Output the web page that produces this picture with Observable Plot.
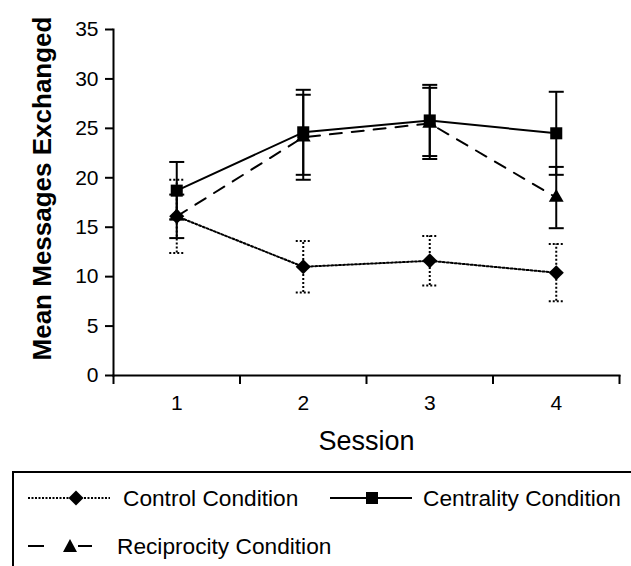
<!DOCTYPE html>
<html>
<head>
<meta charset="utf-8">
<script src="https://cdn.jsdelivr.net/npm/d3@7"></script>
<script src="https://cdn.jsdelivr.net/npm/@observablehq/plot@0.6"></script>
<style>
  html, body { margin: 0; padding: 0; background: #fff; }
  #wrap { position: relative; width: 631px; height: 566px; overflow: hidden; font-family: "Liberation Sans", Arial, sans-serif; }
  #legend { position: absolute; left: 12px; top: 471px; width: 700px; height: 200px; border: 2px solid #000; box-sizing: border-box; }
  .item { position: absolute; height: 30px; }
  .item svg { position: absolute; top: 0; }
  .item span { position: absolute; top: 2px; font-size: 22.7px; white-space: nowrap; color: #000; }
</style>
</head>
<body>
<div id="wrap">
  <div id="chart"></div>
  <div id="legend"></div>
</div>
<script>
const sessions = [1, 2, 3, 4];
const sessionBounds = [0.5, 1.5, 2.5, 3.5, 4.5];
const yTicks = [0, 5, 10, 15, 20, 25, 30, 35];

const control = [16.1, 11.0, 11.6, 10.4];
const controlErr = [3.7, 2.6, 2.5, 2.9];
const centrality = [18.7, 24.6, 25.8, 24.5];
const centralityErr = [2.9, 4.3, 3.6, 4.2];
const reciprocity = [16.1, 24.1, 25.5, 18.0];
const reciprocityErr = [2.2, 4.3, 3.6, 3.1];

const seriesNames = ["Control Condition", "Centrality Condition", "Reciprocity Condition"];

function rows(vals, errs) {
  return sessions.map((s, i) => ({session: s, value: vals[i], lo: vals[i] - errs[i], hi: vals[i] + errs[i]}));
}
const ctrl = rows(control, controlErr);
const cent = rows(centrality, centralityErr);
const reci = rows(reciprocity, reciprocityErr);

const hline = {draw(ctx, size) { const r = Math.sqrt(size / Math.PI); ctx.moveTo(-r, 0); ctx.lineTo(r, 0); }};

function errMarks(data, dash) {
  return [
    Plot.ruleX(data, {x: "session", y1: "lo", y2: "hi", stroke: "black", strokeWidth: 2, strokeDasharray: dash}),
    Plot.dot(data, {x: "session", y: "lo", symbol: hline, r: 7.5, stroke: "black", strokeWidth: 2, strokeDasharray: dash}),
    Plot.dot(data, {x: "session", y: "hi", symbol: hline, r: 7.5, stroke: "black", strokeWidth: 2, strokeDasharray: dash})
  ];
}

const font = "Liberation Sans, Arial, sans-serif";

const chart = Plot.plot({
  width: 631,
  height: 470,
  marginLeft: 113,
  marginRight: 12,
  marginTop: 29,
  marginBottom: 95,
  style: {fontFamily: font, background: "#fff", color: "#000", overflow: "visible"},
  x: {type: "linear", domain: [0.5, 4.5]},
  y: {domain: [0, 35]},
  marks: [
    Plot.axisY({ticks: yTicks, tickSize: 8, tickPadding: 7, fontSize: 21, label: null, strokeWidth: 2}),
    Plot.axisX({ticks: sessions, tickSize: 0, tickPadding: 20, fontSize: 21, label: null, tickFormat: d => String(d)}),
    Plot.axisX({ticks: sessionBounds, tickSize: 9, tickFormat: () => "", label: null, strokeWidth: 2}),
    Plot.frame({anchor: "left", stroke: "black", strokeWidth: 2}),
    Plot.frame({anchor: "bottom", stroke: "black", strokeWidth: 2}),
    Plot.text(["Mean Messages Exchanged"], {frameAnchor: "left", rotate: -90, dx: -71, dy: -14, fontSize: 26, fontWeight: "bold", textAnchor: "middle", lineAnchor: "middle"}),
    Plot.text(["Session"], {frameAnchor: "bottom", dy: 66, fontSize: 27, textAnchor: "middle", lineAnchor: "middle"}),
    ...errMarks(ctrl, "2,2"),
    ...errMarks(cent, null),
    ...errMarks(reci, null),
    Plot.line(ctrl, {x: "session", y: "value", stroke: "black", strokeWidth: 2, strokeDasharray: "2,2"}),
    Plot.line(cent, {x: "session", y: "value", stroke: "black", strokeWidth: 2}),
    Plot.line(reci, {x: "session", y: "value", stroke: "black", strokeWidth: 2, strokeDasharray: "12,10"}),
    Plot.dot(ctrl, {x: "session", y: "value", symbol: "diamond2", r: 6.8, fill: "black"}),
    Plot.dot(cent, {x: "session", y: "value", symbol: "square", r: 6.8, fill: "black"}),
    Plot.dot(reci, {x: "session", y: "value", symbol: "triangle", r: 5.5, fill: "black"})
  ]
});
document.getElementById("chart").appendChild(chart);

// Legend
const legend = document.getElementById("legend");
const ox = 14, oy = 473; // legend box inner origin (page coords)
function addItem(left, top, iconW, iconHtml, textLeft, text) {
  const d = document.createElement("div");
  d.className = "item";
  d.style.left = (left - ox) + "px";
  d.style.top = (top - oy) + "px";
  d.innerHTML = `<svg width="${iconW}" height="30" viewBox="0 0 ${iconW} 30">${iconHtml}</svg><span style="left:${textLeft - left}px">${text}</span>`;
  legend.appendChild(d);
}
addItem(28, 483, 84,
  `<line x1="0" y1="15" x2="82" y2="15" stroke="#000" stroke-width="2" stroke-dasharray="2,1.5"/>
   <path d="M48,7.5 L55.5,15 L48,22.5 L40.5,15Z" fill="#000"/>`,
  123, seriesNames[0]);
addItem(330, 483, 84,
  `<line x1="0" y1="15" x2="82" y2="15" stroke="#000" stroke-width="2"/>
   <rect x="36" y="9" width="12" height="12" fill="#000"/>`,
  423, seriesNames[1]);
addItem(28, 531, 70,
  `<line x1="0" y1="15" x2="16" y2="15" stroke="#000" stroke-width="2"/>
   <line x1="50" y1="15" x2="64" y2="15" stroke="#000" stroke-width="2"/>
   <path d="M42,8 L49,21 L35,21Z" fill="#000"/>`,
  117, seriesNames[2]);
</script>
</body>
</html>
